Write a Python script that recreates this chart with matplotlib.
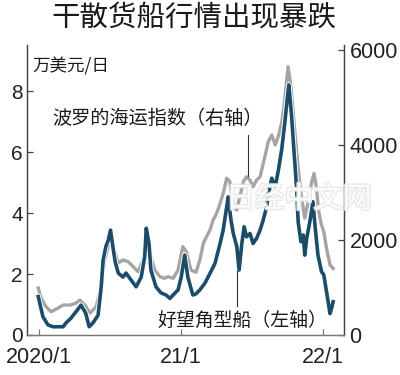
import matplotlib
matplotlib.use("Agg")
import matplotlib.pyplot as plt
import matplotlib.patheffects as pe
from matplotlib import font_manager
import pandas as pd

# ---------------- data ----------------
title = "干散货船行情出现暴跌"
unit_label = "万美元/日"
bdi_label = "波罗的海运指数（右轴）"
cape_label = "好望角型船（左轴）"
watermark = "日经中文网"

cape_dates = ["2019-12-30", "2020-01-04", "2020-01-11", "2020-01-24", "2020-02-06", "2020-02-19",
              "2020-03-03", "2020-03-10", "2020-03-23", "2020-04-05", "2020-04-18", "2020-04-30",
              "2020-05-09", "2020-05-19", "2020-06-01", "2020-06-09", "2020-06-14", "2020-06-21",
              "2020-06-27", "2020-07-03", "2020-07-09", "2020-07-15", "2020-07-23", "2020-08-04",
              "2020-08-12", "2020-08-25", "2020-09-07", "2020-09-20", "2020-09-29", "2020-10-03",
              "2020-10-10", "2020-10-15", "2020-10-28", "2020-11-10", "2020-11-23", "2020-12-03",
              "2020-12-11", "2020-12-24", "2021-01-01", "2021-01-10", "2021-01-18", "2021-01-31",
              "2021-02-08", "2021-02-18", "2021-03-03", "2021-03-16", "2021-03-29", "2021-04-11",
              "2021-04-19", "2021-04-28", "2021-05-02", "2021-05-09", "2021-05-15", "2021-05-24",
              "2021-05-30", "2021-06-06", "2021-06-12", "2021-06-18", "2021-06-27", "2021-07-05",
              "2021-07-14", "2021-07-23", "2021-07-31", "2021-08-09", "2021-08-13", "2021-08-22",
              "2021-08-31", "2021-09-09", "2021-09-17", "2021-09-25", "2021-10-01", "2021-10-05",
              "2021-10-12", "2021-10-19", "2021-10-25", "2021-10-29", "2021-11-05", "2021-11-11",
              "2021-11-15", "2021-11-20", "2021-11-28", "2021-12-06", "2021-12-12", "2021-12-19",
              "2021-12-28", "2022-01-03", "2022-01-10", "2022-01-19", "2022-01-23", "2022-01-27"]
cape_values = [1.26, 0.98, 0.60, 0.33, 0.27, 0.27, 0.27, 0.39, 0.55, 0.76, 0.98, 0.72,
               0.27, 0.40, 0.65, 1.58, 2.46, 2.90, 3.10, 3.44, 2.90, 2.40, 2.03, 1.90,
               2.03, 1.80, 1.58, 1.90, 2.57, 3.50, 3.00, 2.13, 1.58, 1.38, 1.31, 1.20,
               1.31, 1.48, 1.90, 2.62, 1.90, 1.31, 1.35, 1.48, 1.70, 2.02, 2.35, 3.00,
               3.44, 4.20, 4.53, 3.77, 3.33, 2.90, 2.13, 3.00, 3.55, 3.22, 3.33, 3.00,
               3.17, 3.44, 3.77, 4.20, 4.59, 5.14, 4.86, 5.47, 6.12, 7.00, 7.76, 8.20,
               7.20, 5.90, 4.81, 3.71, 3.06, 3.28, 2.62, 3.17, 3.71, 4.37, 3.50, 2.62,
               2.08, 1.97, 1.42, 0.70, 0.88, 1.09]

bdi_dates = ["2019-12-30", "2020-01-06", "2020-01-19", "2020-02-01", "2020-02-19", "2020-03-03",
             "2020-03-21", "2020-04-05", "2020-04-15", "2020-04-28", "2020-05-11", "2020-05-27",
             "2020-06-09", "2020-06-18", "2020-06-27", "2020-07-04", "2020-07-15", "2020-07-23",
             "2020-08-04", "2020-08-17", "2020-08-30", "2020-09-12", "2020-09-25", "2020-10-03",
             "2020-10-12", "2020-10-25", "2020-11-07", "2020-11-19", "2020-11-28", "2020-12-11",
             "2020-12-24", "2021-01-05", "2021-01-14", "2021-01-26", "2021-02-08", "2021-02-18",
             "2021-02-27", "2021-03-07", "2021-03-16", "2021-03-24", "2021-04-02", "2021-04-11",
             "2021-04-19", "2021-04-28", "2021-05-06", "2021-05-15", "2021-05-24", "2021-06-01",
             "2021-06-10", "2021-06-18", "2021-06-27", "2021-07-05", "2021-07-14", "2021-07-23",
             "2021-07-31", "2021-08-07", "2021-08-13", "2021-08-22", "2021-08-31", "2021-09-09",
             "2021-09-17", "2021-09-23", "2021-09-29", "2021-10-03", "2021-10-10", "2021-10-16",
             "2021-10-22", "2021-10-29", "2021-11-07", "2021-11-15", "2021-11-24", "2021-12-03",
             "2021-12-09", "2021-12-15", "2021-12-21", "2021-12-28", "2022-01-03", "2022-01-10",
             "2022-01-19", "2022-01-27"]
bdi_values = [990, 780, 596, 490, 568, 630, 630, 670, 737, 630, 460, 596,
              1017, 1580, 1860, 2000, 1720, 1515, 1580, 1545, 1440, 1333, 1580, 2175,
              1725, 1368, 1228, 1193, 1228, 1193, 1368, 1860, 1754, 1368, 1320, 1580,
              1930, 2070, 2210, 2420, 2560, 2770, 2980, 3300, 3230, 2700, 2630, 2910,
              3230, 3330, 3260, 3120, 3260, 3330, 3610, 3850, 4070, 4210, 4000, 4210,
              4490, 4840, 5330, 5650, 5260, 4700, 4140, 3510, 2880, 2460, 2810, 3230,
              3400, 3090, 2600, 2320, 2175, 1825, 1475, 1400]

left_ticks = [0, 2, 4, 6, 8]
right_ticks = [0, 2000, 4000, 6000]
x_tick_dates = ["2020-01-01", "2021-01-01", "2022-01-01"]
x_tick_labels = ["2020/1", "21/1", "22/1"]

# ---------------- fonts ----------------
names = {f.name for f in font_manager.fontManager.ttflist}
num_font = "Liberation Sans Narrow" if "Liberation Sans Narrow" in names else "Liberation Sans"
cjk = ["Noto Sans CJK SC", "DejaVu Sans"]

# ---------------- plot ----------------
fig = plt.figure(figsize=(4.0, 3.75), dpi=100)
ax = fig.add_axes([0.0675, 0.1067, 0.7925, 0.7733])
ax2 = ax.twinx()
ax.set_zorder(ax2.get_zorder() + 1)
ax.patch.set_visible(False)

cape_x = pd.to_datetime(cape_dates)
bdi_x = pd.to_datetime(bdi_dates)

ax2.plot(bdi_x, bdi_values, color="#a5a5a5", lw=2.4, solid_joinstyle="round",
         path_effects=[pe.Stroke(linewidth=3.7, foreground="white"), pe.Normal()])
ax.plot(cape_x, cape_values, color="#1b4d6a", lw=2.6, solid_joinstyle="round",
        path_effects=[pe.Stroke(linewidth=3.9, foreground="white"), pe.Normal()])

ax.set_xlim(pd.Timestamp("2019-12-01"), pd.Timestamp("2022-02-24"))
ax.set_ylim(0, 9.51)
ax2.set_ylim(0, 6105)

ax.set_yticks(left_ticks)
ax.set_yticklabels([str(v) for v in left_ticks])
ax2.set_yticks(right_ticks)
ax2.set_yticklabels([str(v) for v in right_ticks])
ax.set_xticks(pd.to_datetime(x_tick_dates))
ax.set_xticklabels(x_tick_labels)

for a in (ax, ax2):
    a.spines["top"].set_visible(False)
    a.spines["left"].set_color("#444444")
    a.spines["right"].set_color("#444444")
    a.spines["bottom"].set_color("#777777")
    for s in a.spines.values():
        s.set_linewidth(0.9)
ax.tick_params(axis="y", direction="in", length=4, width=0.9, pad=3, colors="#444444",
               labelcolor="#222222", labelsize=15)
ax2.tick_params(axis="y", direction="in", length=4, width=0.9, pad=4, colors="#444444",
                labelcolor="#222222", labelsize=15.5)
ax.tick_params(axis="x", direction="in", length=4, width=0.9, pad=9, colors="#777777",
               labelcolor="#222222", labelsize=15.5)
for lab in ax.get_xticklabels() + ax.get_yticklabels() + ax2.get_yticklabels():
    lab.set_family(num_font)

fig.text(0.485, 0.952, title, ha="center", va="center", fontsize=20.5,
         family=cjk, color="#1a1a1a")
ax.text(0.016, 0.925, unit_label, transform=ax.transAxes, ha="left", va="center",
        fontsize=12.6, family=cjk, color="#1a1a1a")

# labels with pointer lines
ax.text(0.08, 0.745, bdi_label, transform=ax.transAxes, ha="left", va="center",
        fontsize=13.8, family=cjk, color="#1a1a1a")
ax.plot([0.696, 0.696], [0.688, 0.548], transform=ax.transAxes, color="#333333", lw=0.8)
ax.text(0.412, 0.052, cape_label, transform=ax.transAxes, ha="left", va="center",
        fontsize=13.6, family=cjk, color="#1a1a1a")
ax.plot([0.663, 0.663], [0.222, 0.10], transform=ax.transAxes, color="#333333", lw=0.8)

# watermark
fig.text(0.565, 0.468, watermark, ha="left", va="center", fontsize=21, family=cjk,
         color="white", alpha=0.9, zorder=10,
         path_effects=[pe.withStroke(linewidth=2.0, foreground="#e6e6e6")])

fig.savefig("out.png", dpi=100, facecolor="white")
